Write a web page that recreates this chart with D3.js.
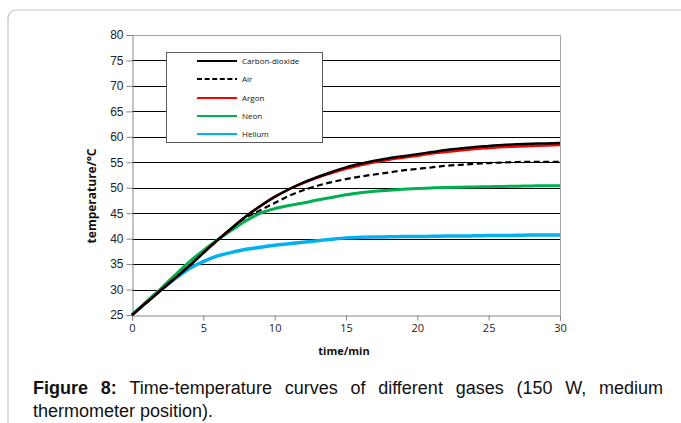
<!DOCTYPE html>
<html>
<head>
<meta charset="utf-8">
<script src="https://cdn.jsdelivr.net/npm/d3@7/dist/d3.min.js"></script>
<style>
  html, body { margin: 0; padding: 0; background: #fff; }
  svg { display: block; }
</style>
</head>
<body>
<svg id="chart" width="681" height="423"></svg>
<script>
const time = [0,1,2,3,4,5,6,7,8,9,10,11,12,13,14,15,16,17,18,19,20,21,22,23,24,25,26,27,28,29,30];
const co2    = [25,27.4,29.8,32.2,34.6,37.2,39.7,42.1,44.4,46.4,48.2,49.7,51.0,52.1,53.1,54.0,54.7,55.3,55.8,56.2,56.6,57.0,57.4,57.7,58.0,58.2,58.4,58.55,58.65,58.7,58.8];
const air    = [25,27.4,29.8,32.2,34.6,37.2,39.7,42.1,44.2,45.6,47.0,48.4,49.5,50.4,51.1,51.7,52.2,52.6,53.0,53.4,53.7,54.0,54.3,54.5,54.7,54.85,54.95,55.05,55.1,55.1,55.1];
const argon  = [25,27.4,29.8,32.2,34.6,37.2,39.7,42.1,44.4,46.4,48.2,49.7,50.9,52.0,52.9,53.7,54.4,55.0,55.5,55.9,56.3,56.7,57.0,57.3,57.6,57.8,58.0,58.1,58.2,58.3,58.4];
const neon   = [25,27.6,30.1,32.8,35.4,37.7,39.8,41.7,43.5,45.0,45.9,46.5,47.0,47.6,48.1,48.6,49.0,49.3,49.5,49.7,49.85,49.95,50.05,50.1,50.15,50.2,50.25,50.3,50.35,50.4,50.4];
const helium = [25,27.5,29.9,32.1,34.1,35.5,36.6,37.3,37.9,38.3,38.7,39.0,39.3,39.6,39.9,40.15,40.25,40.3,40.35,40.4,40.4,40.45,40.5,40.5,40.55,40.6,40.6,40.65,40.7,40.7,40.7];
const seriesNames = ["Carbon-dioxide","Air","Argon","Neon","Helium"];
const xTicks = [0,5,10,15,20,25,30];
const yTicks = [25,30,35,40,45,50,55,60,65,70,75,80];
const captionLabel = "Figure 8:";
const captionLine1 = "Time-temperature curves of different gases (150 W, medium";
const captionLine2 = "thermometer position).";

const seriesData = [co2, air, argon, neon, helium];
const styles = [
  {color:"#000000", width:2.5, dash:null},
  {color:"#000000", width:2.2, dash:"6,3.5"},
  {color:"#ff0000", width:2.5, dash:null},
  {color:"#00b050", width:3, dash:null},
  {color:"#00b0f0", width:3.5, dash:null}
];

const svg = d3.select("#chart");
// outer frame
svg.append("rect").attr("x",8).attr("y",10).attr("width",720).attr("height",460)
  .attr("rx",8).attr("ry",8).attr("fill","none").attr("stroke","#c4c4c4").attr("stroke-width",1.2);

const x = d3.scaleLinear().domain([0,30]).range([132,560]);
const y = d3.scaleLinear().domain([25,80]).range([315,35]);

// gridlines
svg.append("g").selectAll("line").data(yTicks.filter(v => v > 25)).join("line")
  .attr("x1", x(0)).attr("x2", x(30))
  .attr("y1", d => Math.round(y(d)) + 0.5).attr("y2", d => Math.round(y(d)) + 0.5)
  .attr("stroke", d => d === 80 ? "#a6a6a6" : "#000").attr("stroke-width", 1);
// right border
svg.append("line").attr("x1", x(30)+0.5).attr("x2", x(30)+0.5).attr("y1", y(80)).attr("y2", y(25))
  .attr("stroke","#a6a6a6").attr("stroke-width",1);

// axes
const yAxis = svg.append("g").attr("transform", `translate(${x(0)+0.5},0)`)
  .call(d3.axisLeft(y).tickValues(yTicks).tickSize(6).tickPadding(3).tickFormat(d3.format("d")));
yAxis.select(".domain").attr("stroke","#868686");
yAxis.selectAll(".tick line").attr("stroke","#868686");
yAxis.selectAll("text").attr("font-family","Liberation Sans, Arial, sans-serif").attr("font-size",12).attr("fill","#222");

const xAxis = svg.append("g").attr("transform", `translate(0,${Math.round(y(25))+0.5})`)
  .call(d3.axisBottom(x).tickValues(xTicks).tickSize(5).tickPadding(4).tickFormat(d3.format("d")));
xAxis.select(".domain").attr("stroke","#868686");
xAxis.selectAll(".tick line").attr("stroke","#868686");
xAxis.selectAll("text").attr("font-family","Open Sans, sans-serif").attr("font-size",11).attr("fill","#222");

// axis titles
svg.append("text").attr("x",344).attr("y",355).attr("text-anchor","middle")
  .attr("font-family","Open Sans, sans-serif").attr("font-weight","bold").attr("font-size",11)
  .attr("fill","#111").text("time/min");
svg.append("text").attr("transform","translate(96,196) rotate(-90)").attr("text-anchor","middle")
  .attr("font-family","Open Sans, sans-serif").attr("font-weight","bold").attr("font-size",12)
  .attr("fill","#111").text("temperature/°C");

// lines
const line = d3.line().x((d,i) => x(time[i])).y(d => y(d)).curve(d3.curveMonotoneX);
const order = [4,3,1,2,0];
const plotG = svg.append("g");
order.forEach(k => {
  plotG.append("path").datum(seriesData[k]).attr("d", line)
    .attr("fill","none").attr("stroke", styles[k].color).attr("stroke-width", styles[k].width)
    .attr("stroke-dasharray", styles[k].dash).attr("stroke-linejoin","round");
});

// legend
const lg = svg.append("g");
lg.append("rect").attr("x",166.5).attr("y",52.5).attr("width",156).attr("height",90)
  .attr("fill","#fff").attr("stroke","#5a5a5a").attr("stroke-width",1);
const rowsY = [61,79,98,116,134];
seriesNames.forEach((name,i) => {
  lg.append("line").attr("x1",197).attr("x2",237).attr("y1",rowsY[i]).attr("y2",rowsY[i])
    .attr("stroke",styles[i].color).attr("stroke-width",2.2).attr("stroke-dasharray",styles[i].dash ? "5,2.6" : null);
  lg.append("text").attr("x",242).attr("y",rowsY[i]+2.8)
    .attr("font-family","Open Sans, sans-serif").attr("font-size",8).attr("fill","#111").text(name);
});

// caption (justified first line)
const capG = svg.append("g").attr("font-family","Liberation Sans, Arial, sans-serif")
  .attr("font-size",18).attr("fill","#111");
const left = 33, right = 663;
const words = [{t:"Figure", b:true},{t:"8:", b:true}].concat(captionLine1.split(" ").map(t => ({t, b:false})));
const nodes = words.map(w => capG.append("text").attr("y",394).attr("font-weight", w.b ? "bold" : "normal").text(w.t));
const widths = nodes.map(n => n.node().getComputedTextLength());
const total = d3.sum(widths);
const gap = (right - left - total) / (words.length - 1);
let cx = left;
nodes.forEach((n,i) => { n.attr("x", cx); cx += widths[i] + gap; });
capG.append("text").attr("x",left).attr("y",417).text(captionLine2);
</script>
</body>
</html>
